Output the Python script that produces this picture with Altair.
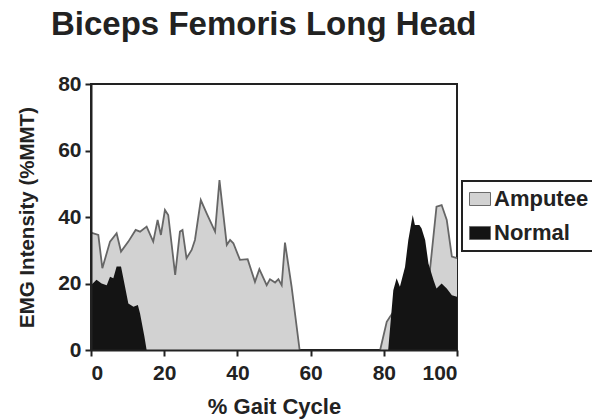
import altair as alt
import pandas as pd

amp_pct = [0, 2, 3.1, 5.2, 7, 8.2, 10.2, 12.2, 13.4, 15.2, 17, 18.2, 19.1, 20.2, 21.1,
           23, 24.3, 25, 26.1, 27.5, 28.4, 30, 31.6, 33.9, 35.1, 37.1, 38, 38.9, 40.7,
           42.8, 44.8, 46, 48, 48.9, 50.3, 51.2, 52.1, 53, 54.8, 57, 79, 80.8, 81.7,
           83, 86, 89, 91.8, 92.6, 94.4, 95.8, 97.2, 98.6, 100]
amp_val = [35.3, 34.6, 24.6, 32.6, 35.1, 29.6, 32.6, 36.1, 35.6, 37.1, 32.6, 39.1, 34.6, 42.1, 40.6,
           22.6, 35.6, 36.1, 27.6, 30.1, 33.1, 45.1, 41.1, 35.6, 51.1, 31.6, 33.1, 32.1, 27.1,
           27.3, 20.5, 24.3, 19.5, 21.3, 20.3, 21.3, 19.5, 32.3, 19.1, 0, 0, 8.5, 10,
           12, 14, 16, 18, 24, 43.1, 43.6, 39.1, 28.1, 27.6]

norm_pct = [0, 1.5, 2.9, 4.3, 5.2, 6.1, 7, 8.2, 9.3, 10.2, 11.6, 12.8, 13.4, 14.6, 15.2,
            81.2, 82.6, 83.5, 84.4, 85.8, 86.7, 87.9, 88.5, 89.7, 90.3, 91.3, 92.2, 93.6,
            94.4, 95.8, 97.2, 98.6, 100]
norm_val = [19.5, 21.1, 20, 19.5, 22, 21.6, 25.1, 25.1, 19, 14, 13, 13.5, 11, 4, 0,
            0, 18, 21.6, 19, 25, 33.1, 40.6, 37.6, 37.6, 36.6, 33.1, 26, 21,
            18.5, 20, 18.5, 16.5, 16]

series_names = ["Amputee", "Normal"]
x_ticks = [0, 20, 40, 60, 80, 100]
y_ticks = [0, 20, 40, 60, 80]

amp = pd.DataFrame({"pct": amp_pct, "val": amp_val, "series": series_names[0]})
amp["seg"] = (amp["pct"] >= 79).astype(int)
norm = pd.DataFrame({"pct": norm_pct, "val": norm_val, "series": series_names[1]})

FONT = "Liberation Sans"
INK = "#222222"

color = alt.Color(
    "series:N",
    scale=alt.Scale(domain=series_names, range=["#d2d2d2", "#141414"]),
    legend=alt.Legend(
        title=None, orient="none", legendX=371, legendY=97,
        symbolType="M-1,-0.62H1V0.62H-1Z", symbolSize=441,
        symbolStrokeColor="#6a6a6a", symbolStrokeWidth=1, symbolOpacity=1,
        labelFontSize=22, labelFont=FONT, labelFontWeight="bold", labelColor=INK,
        labelOffset=3, strokeColor=INK, fillColor="white", padding=7, rowPadding=12,
    ),
)
x = alt.X("pct:Q", scale=alt.Scale(domain=[0, 100], nice=False),
          axis=alt.Axis(values=x_ticks, title="% Gait Cycle", grid=False, labelPadding=6,
                        titlePadding=13, titleFontSize=22, zindex=1))
y = alt.Y("val:Q", scale=alt.Scale(domain=[0, 80], nice=False),
          axis=alt.Axis(values=y_ticks, title="EMG Intensity (%MMT)", grid=False, labelPadding=4,
                        titlePadding=20, titleFontSize=20.5, zindex=1))

a1 = alt.Chart(amp).mark_area(opacity=1).encode(x=x, y=y, color=color)
a2 = alt.Chart(amp).mark_line(color="#666666", strokeWidth=1.8).encode(
    x="pct:Q", y="val:Q", detail="seg:N")
n1 = alt.Chart(norm).mark_area(opacity=1).encode(x=x, y=y, color=color)

chart = alt.layer(a1, a2, n1).properties(
    width=366, height=266,
    title=alt.TitleParams("Biceps Femoris Long Head", anchor="start", frame="group", dx=-40,
                          offset=5, baseline="alphabetic", fontSize=33, font=FONT,
                          fontWeight="bold", color=INK),
    autosize=alt.AutoSizeParams(type="none"),
    padding={"left": 91, "top": 84, "right": 135, "bottom": 70},
).configure_view(stroke=INK, strokeWidth=2).configure_axis(
    labelFont=FONT, labelFontSize=21, labelFontWeight="bold", labelColor=INK,
    titleFont=FONT, titleFontWeight="bold", titleColor=INK,
    domainColor=INK, domainWidth=2, tickColor=INK, tickWidth=2, tickSize=6,
).configure_legend(strokeWidth=2)

chart.save("out.html", embed_options={"renderer": "svg", "actions": False})
